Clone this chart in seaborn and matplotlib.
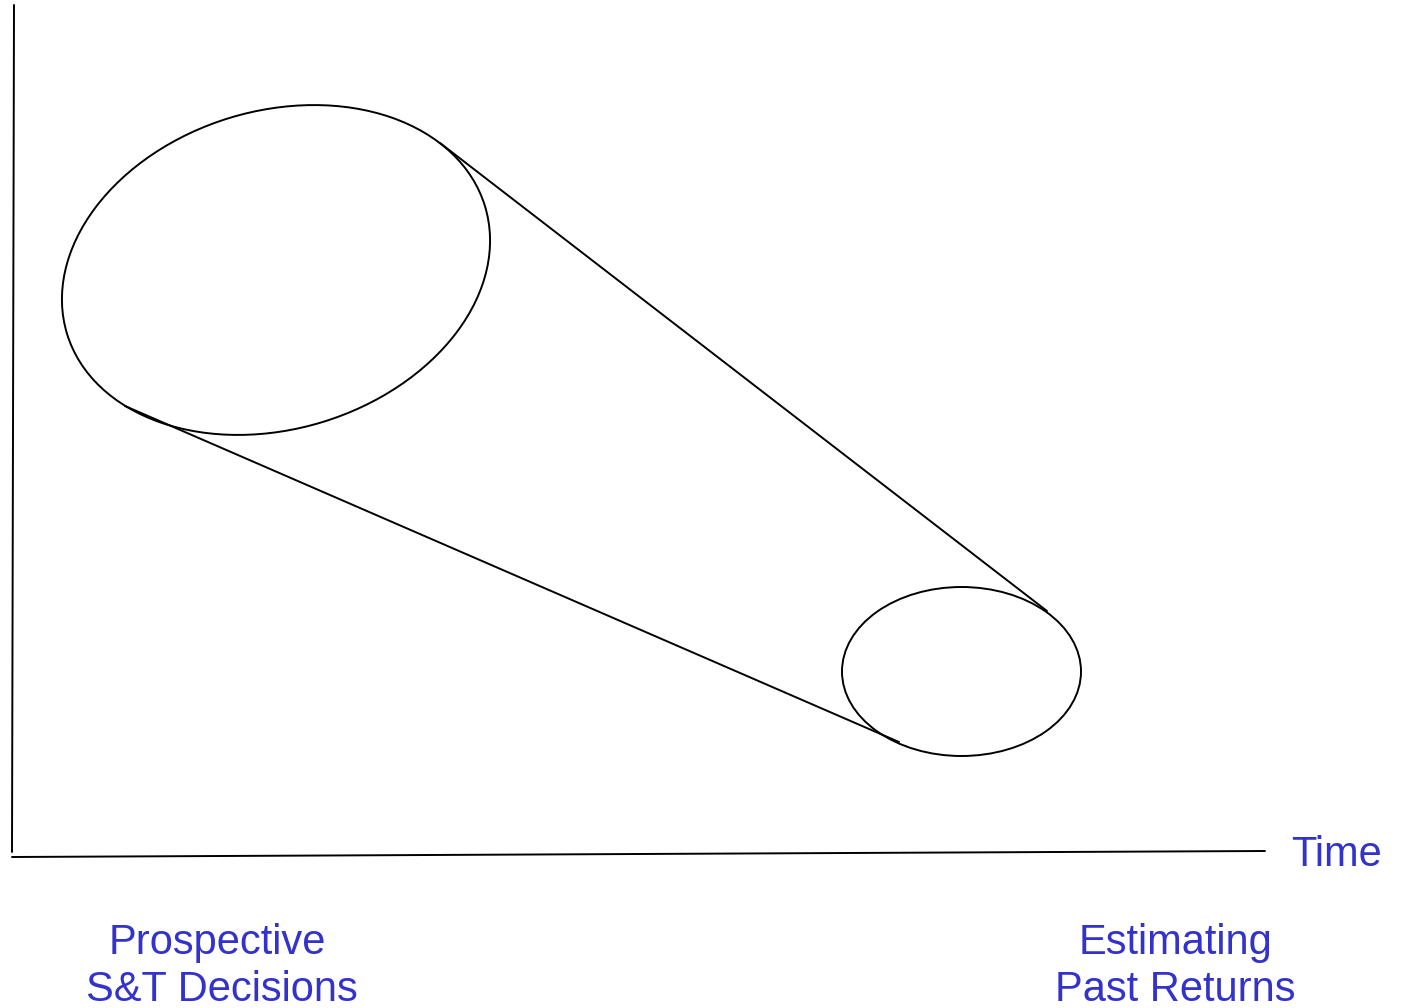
import numpy as np
import pandas as pd
import matplotlib
matplotlib.use('Agg')
import matplotlib.pyplot as plt
from matplotlib.patches import Ellipse
import seaborn as sns

# canvas in pixel units (y measured from top)
W, H = 1401, 1008

# ellipses: centre x, centre y, width, height, tilt (deg, counter-clockwise on screen)
ell_cx = [276, 961.5]
ell_cy = [270, 671.5]
ell_w = [437, 239]
ell_h = [318, 169]
ell_tilt = [17, 0]

# connecting lines and the two axes: segment id, x, y
seg_id = ['upper', 'upper', 'lower', 'lower', 'yaxis', 'yaxis', 'xaxis', 'xaxis']
seg_x = [440, 1047, 125, 899, 14, 12, 12, 1265]
seg_y = [143, 611, 406, 742, 5, 852, 857, 851]

# labels, one entry per text line
label_text = ['Time', 'Prospective', 'S&T Decisions', 'Estimating', 'Past Returns']
label_x = [1337, 217, 222, 1175, 1175]
label_y = [855, 943, 990, 943, 990]


def main():
    sns.set_style('white')
    plt.rcParams['font.family'] = ['Liberation Sans', 'DejaVu Sans']

    fig = plt.figure(figsize=(W / 100, H / 100), dpi=100)
    ax = fig.add_axes([0, 0, 1, 1])

    segs = pd.DataFrame({'seg': seg_id, 'x': seg_x, 'y': seg_y})
    sns.lineplot(data=segs, x='x', y='y', units='seg', estimator=None, sort=False,
                 color='black', linewidth=1.4, ax=ax, legend=False)

    for cx, cy, w, h, t in zip(ell_cx, ell_cy, ell_w, ell_h, ell_tilt):
        # y axis is inverted, so flip the tilt sign
        ax.add_patch(Ellipse((cx, cy), w, h, angle=-t, fill=False,
                             edgecolor='black', linewidth=1.4))

    for txt, x, y in zip(label_text, label_x, label_y):
        ax.text(x, y, txt, color='#3333cc', fontsize=30, ha='center', va='center')

    ax.set_xlim(0, W)
    ax.set_ylim(H, 0)
    ax.set_axis_off()
    ax.set_xlabel('')
    ax.set_ylabel('')

    fig.savefig('out.png', dpi=100, facecolor='white')


if __name__ == '__main__':
    main()
